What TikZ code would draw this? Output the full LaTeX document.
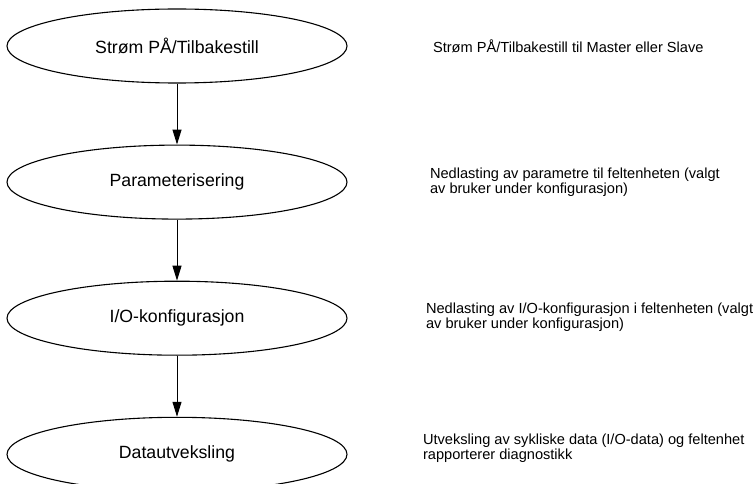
\documentclass[tikz,border=0pt]{standalone}
\usepackage{fontspec}
\setmainfont{Liberation Sans}
\usetikzlibrary{arrows.meta, positioning, shapes.geometric}

\begin{document}
\begin{tikzpicture}[
		x=1pt, y=-1pt,
		node distance=61pt and 85pt,
		phase/.style={ellipse, draw, line width=1.1pt, minimum width=340pt, minimum height=74pt, inner sep=0pt, font=\fontsize{17.7}{20}\selectfont},
		desc/.style={align=left, inner sep=0pt, font=\fontsize{14.6}{15.5}\selectfont},
		>={Triangle[length=15pt, width=9pt]}, line width=1pt, black
		]
	
		\useasboundingbox (0,0) rectangle (756,484);
		% Phases
		\node[phase] at (177,46) (powernode) {Strøm PÅ/Tilbakestill};
		\node[desc, right = of powernode] {Strøm PÅ/Tilbakestill til Master eller Slave};
		\node[phase, below = of powernode] (paramnode) {Parameterisering};
		\node[desc, right = 82pt of paramnode] {Nedlasting av parametre til feltenheten (valgt \\ av bruker under konfigurasjon)};
		\node[phase, below = of paramnode] (ionode) {I/O-konfigurasjon};
		\node[desc, right = 78pt of ionode, yshift = 1pt] {Nedlasting av I/O-konfigurasjon i feltenheten (valgt \\ av bruker under konfigurasjon)};
		\node[phase, below = of ionode] (datanode) {Datautveksling};
		\node[desc, right = 75pt of datanode, yshift = 6pt] {Utveksling av sykliske data (I/O-data) og feltenhet \\ rapporterer diagnostikk};
		
		% Flow
		\draw[->] (powernode) -- (paramnode);
		\draw[->] (paramnode) -- (ionode);
		\draw[->] (ionode) -- (datanode);
	
	\end{tikzpicture}
\end{document}
